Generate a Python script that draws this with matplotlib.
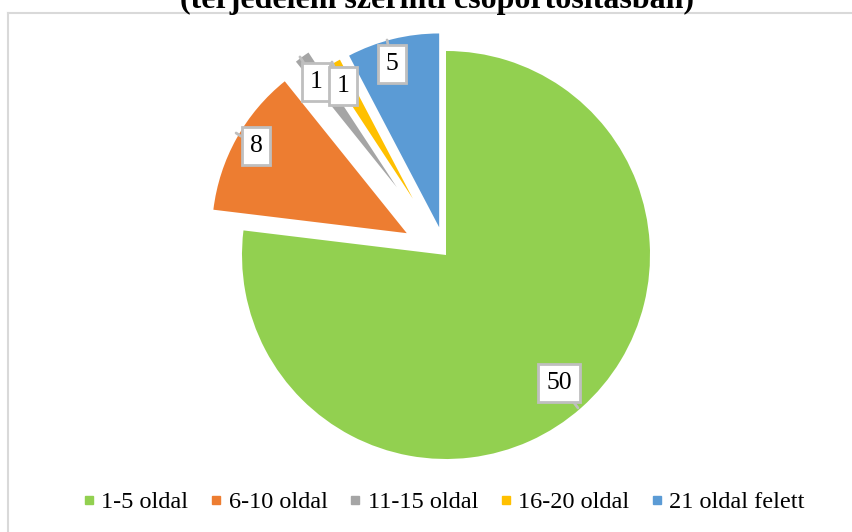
import matplotlib
matplotlib.use("Agg")
from matplotlib import pyplot as plt
from matplotlib.lines import Line2D

# data
categories = ["1-5 oldal", "6-10 oldal", "11-15 oldal", "16-20 oldal", "21 oldal felett"]
values = [50, 8, 1, 1, 5]
colors = ["#92D050", "#ED7D31", "#A5A5A5", "#FFC000", "#5B9BD5"]
title = "(terjedelem szerinti csoportosításban)"

# layout of the (exploded) slices
explode = [0.0, 0.22, 0.41, 0.32, 0.14]
radii = [1.0, 0.955, 0.79, 0.77, 0.95]
# label box centres and pointer tips (data units of the pie axes)
label_pos = [(0.554, -0.627), (-0.931, 0.534), (-0.637, 0.848), (-0.505, 0.828), (-0.265, 0.936)]
label_tip = [(0.647, -0.75), (-1.029, 0.598), (-0.716, 0.971), (-0.559, 0.946), (-0.289, 1.054)]

plt.rcParams['font.family'] = ['Liberation Serif', 'DejaVu Serif']

W, H = 853, 532
fig = plt.figure(figsize=(W / 100, H / 100), dpi=100)

lim = 1.3
r_px = 204
cx, cy = 446, 255
ax = fig.add_axes([(cx - lim * r_px) / W, (H - cy - lim * r_px) / H,
                   2 * lim * r_px / W, 2 * lim * r_px / H])
wedges, _ = ax.pie(values, colors=colors, startangle=90, counterclock=False,
                   explode=explode, wedgeprops=dict(linewidth=0))
for w, r in zip(wedges, radii):
    w.set_radius(r)
ax.set_xlim(-lim, lim)
ax.set_ylim(-lim, lim)
ax.set_aspect('equal')
ax.axis('off')

for v, pos, tip in zip(values, label_pos, label_tip):
    ax.annotate(str(v), xy=tip, xytext=pos, ha='center', va='center', fontsize=18.5,
                bbox=dict(boxstyle='square,pad=0.3', fc='white', ec='#BFBFBF', lw=2),
                arrowprops=dict(arrowstyle='-', color='#BFBFBF', lw=2, shrinkA=0, shrinkB=0))

# chart frame (only top and left edges visible)
fig.add_artist(Line2D([8 / W, 1], [1 - 13 / H, 1 - 13 / H], color='#D9D9D9', lw=1.5,
                      transform=fig.transFigure))
fig.add_artist(Line2D([8 / W, 8 / W], [0, 1 - 13 / H], color='#D9D9D9', lw=1.5,
                      transform=fig.transFigure))

fig.text(437 / W, 1 - 8 / H, title, ha='center', va='baseline', fontsize=23,
         fontweight='bold')

handles = [Line2D([], [], marker='s', ls='', color=c, markersize=6) for c in colors]
fig.legend(handles, categories, loc='center', bbox_to_anchor=(444 / W, 1 - 502 / H),
           ncol=5, frameon=False, fontsize=17.5, handlelength=0.5, handletextpad=0.25,
           columnspacing=0.9)

fig.savefig("out.png", dpi=100)
